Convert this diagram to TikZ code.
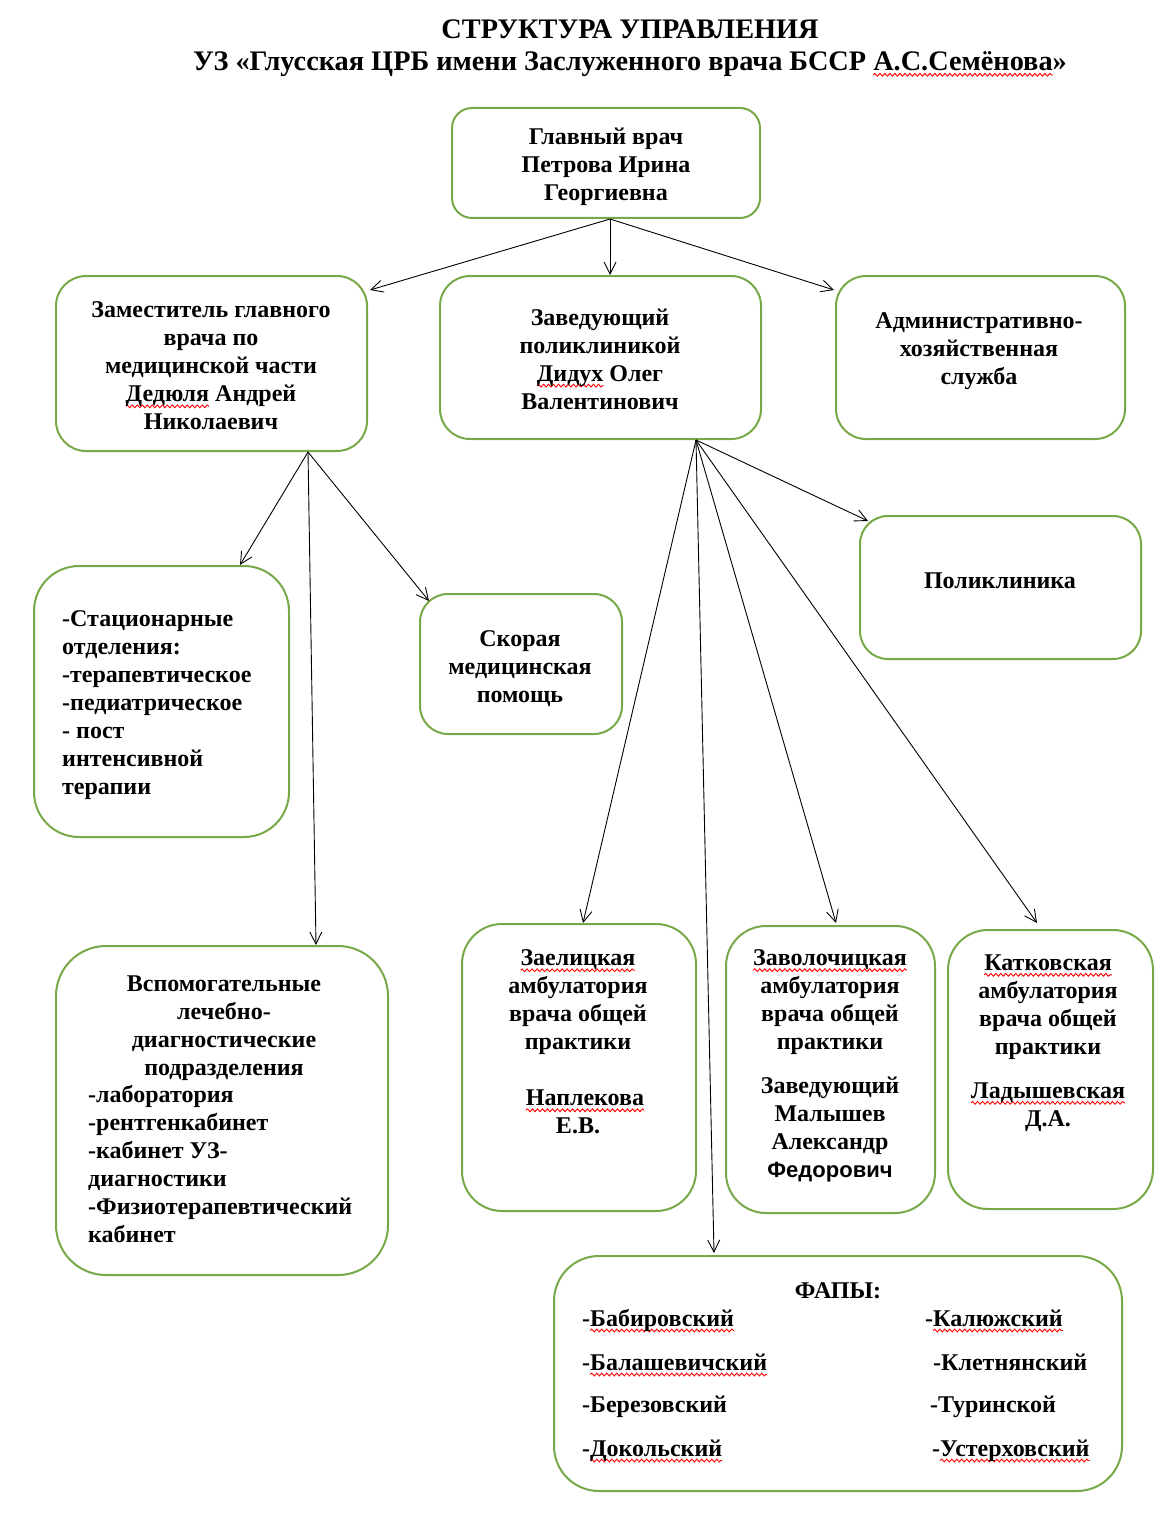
\documentclass[tikz,border=0pt]{standalone}
\usepackage{fontspec}
\setmainfont{Liberation Serif}
\newfontfamily\arialf{Liberation Sans}
\usetikzlibrary{arrows.meta,calc,decorations.pathmorphing}
\definecolor{boxgreen}{RGB}{119,169,73}
\newsavebox\sqbox
\newcommand\sq[1]{\sbox\sqbox{#1}\leavevmode\rlap{\tikz[overlay]\draw[red, line width=0.9pt, decorate, decoration={snake, amplitude=1.4pt, segment length=5pt}] (0pt,-4.5pt) -- (\the\wd\sqbox,-4.5pt);}\usebox\sqbox}
\tikzset{
  box/.style={draw=boxgreen, line width=2pt, inner sep=0pt},
  txt/.style={font=\fontsize{24}{28}\selectfont\bfseries, align=center, inner sep=0pt},
  ltxt/.style={font=\fontsize{24}{28}\selectfont\bfseries, align=left, inner sep=0pt},
  item/.style={font=\fontsize{24}{28}\selectfont\bfseries, inner sep=0pt, text height=17pt, text depth=5pt, anchor=west},
  arr/.style={draw=black, line width=0.9pt, -{Straight Barb[length=12pt,width=12pt]}}
}
\begin{document}
\begin{tikzpicture}[x=1pt,y=-1pt]
\useasboundingbox (0,0) rectangle (1170,1522);

% title
\node[font=\fontsize{28.3}{32}\selectfont\bfseries, align=center, inner sep=0pt] (title) at (630,48)
  {СТРУКТУРА УПРАВЛЕНИЯ\\УЗ «Глусская ЦРБ имени Заслуженного врача БССР \sq{А.С.Семёнова}»};

% boxes
\node[box, minimum width=308, minimum height=110, rounded corners=20pt] (main) at (606,163) {};
\node[box, minimum width=311, minimum height=175, rounded corners=30pt] (dep) at (211.5,363.5) {};
\node[box, minimum width=321, minimum height=163, rounded corners=30pt] (pol) at (600.5,357.5) {};
\node[box, minimum width=289, minimum height=163, rounded corners=30pt] (adm) at (980.5,357.5) {};
\node[box, minimum width=255, minimum height=271, rounded corners=45pt] (stat) at (161.5,701.5) {};
\node[box, minimum width=202, minimum height=140, rounded corners=28pt] (amb) at (521,664) {};
\node[box, minimum width=281, minimum height=143, rounded corners=28pt] (clinic) at (1000.5,587.5) {};
\node[box, minimum width=332, minimum height=329, rounded corners=50pt] (aux) at (222,1110.5) {};
\node[box, minimum width=234, minimum height=287, rounded corners=40pt] (zael) at (579,1067.5) {};
\node[box, minimum width=209, minimum height=287, rounded corners=40pt] (zavol) at (830.5,1069.5) {};
\node[box, minimum width=205, minimum height=279, rounded corners=40pt] (katk) at (1050.5,1069.5) {};
\node[box, minimum width=568, minimum height=235, rounded corners=45pt] (fap) at (838,1373.5) {};

% texts
\node[txt] (tmain) at (606,167) {Главный врач\\Петрова Ирина\\Георгиевна};
\node[txt] (tdep) at (211,366) {Заместитель главного\\врача по\\медицинской части\\\sq{Дедюля} Андрей\\Николаевич};
\node[txt] (tpol) at (600,359) {Заведующий\\поликлиникой\\\sq{Дидух} Олег\\Валентинович};
\node[txt] (tadm) at (979,351) {Административно-\\хозяйственная\\служба};
\node[ltxt, anchor=west] (tstat) at (62,705) {-Стационарные\\отделения:\\-терапевтическое\\-педиатрическое\\- пост\\интенсивной\\терапии};
\node[txt] (tamb) at (520,669) {Скорая\\медицинская\\помощь};
\node[txt] (tclinic) at (1000,581) {Поликлиника};
\node[txt] (taux1) at (224,1028) {Вспомогательные\\лечебно-\\диагностические\\подразделения};
\node[ltxt, anchor=west] (taux2) at (88,1164) {-лаборатория\\-рентгенкабинет\\-кабинет УЗ-\\диагностики\\-Физиотерапевтический\\кабинет};
\node[txt] (tzael) at (578,1042) {\sq{Заелицкая}\\амбулатория\\врача общей\\практики\\[28pt]\hspace*{14pt}\sq{Наплекова}\\Е.В.};
\node[txt] (tzavol) at (830,1066) {\sq{Заволочицкая}\\амбулатория\\врача общей\\практики\\[16pt]Заведующий\\Малышев\\Александр\\{\arialf\bfseries\fontsize{22}{28}\selectfont Федорович}};
\node[txt] (tkatk) at (1048,1043) {\sq{Катковская}\\амбулатория\\врача общей\\практики\\[16pt]\sq{Ладышевская}\\Д.А.};
\node[txt] (tfap) at (838,1291) {ФАПЫ:};
\node[item] (f1) at (582,1320) {-\sq{Бабировский}};
\node[item] (f2) at (582,1364) {-\sq{Балашевичский}};
\node[item] (f3) at (582,1406) {-Березовский};
\node[item] (f4) at (582,1450) {-\sq{Докольский}};
\node[item] (f5) at (925,1320) {-\sq{Калюжский}};
\node[item] (f6) at (933,1364) {-Клетнянский};
\node[item] (f7) at (930,1406) {-Туринской};
\node[item] (f8) at (932,1450) {-\sq{Устерховский}};

% connectors
\draw[arr] ($(main.south)+(4,0)$) -- ($(dep.north east)+(2,15)$);
\draw[arr] ($(main.south)+(4,0)$) -- ($(pol.north)+(9.5,0)$);
\draw[arr] ($(main.south)+(4,0)$) -- ($(adm.north west)+(-1,15)$);

\draw[arr] ($(dep.south)+(96.5,0)$) -- ($(stat.north)+(78.5,0)$);
\draw[arr] ($(dep.south)+(96.5,0)$) -- ($(aux.north)+(94,0)$);
\draw[arr] ($(dep.south)+(96.5,0)$) -- ($(amb.north west)+(10,8)$);

\draw[arr] ($(pol.south)+(95.5,0)$) -- ($(clinic.north west)+(9,6)$);
\draw[arr] ($(pol.south)+(95.5,0)$) -- ($(zael.north)+(4,0)$);
\draw[arr] ($(pol.south)+(95.5,0)$) -- ($(fap.north)+(-124,-2)$);
\draw[arr] ($(pol.south)+(95.5,0)$) -- ($(zavol.north)+(5.5,-2)$);
\draw[arr] ($(pol.south)+(95.5,0)$) -- ($(katk.north)+(-13.5,-6)$);
\end{tikzpicture}
\end{document}
